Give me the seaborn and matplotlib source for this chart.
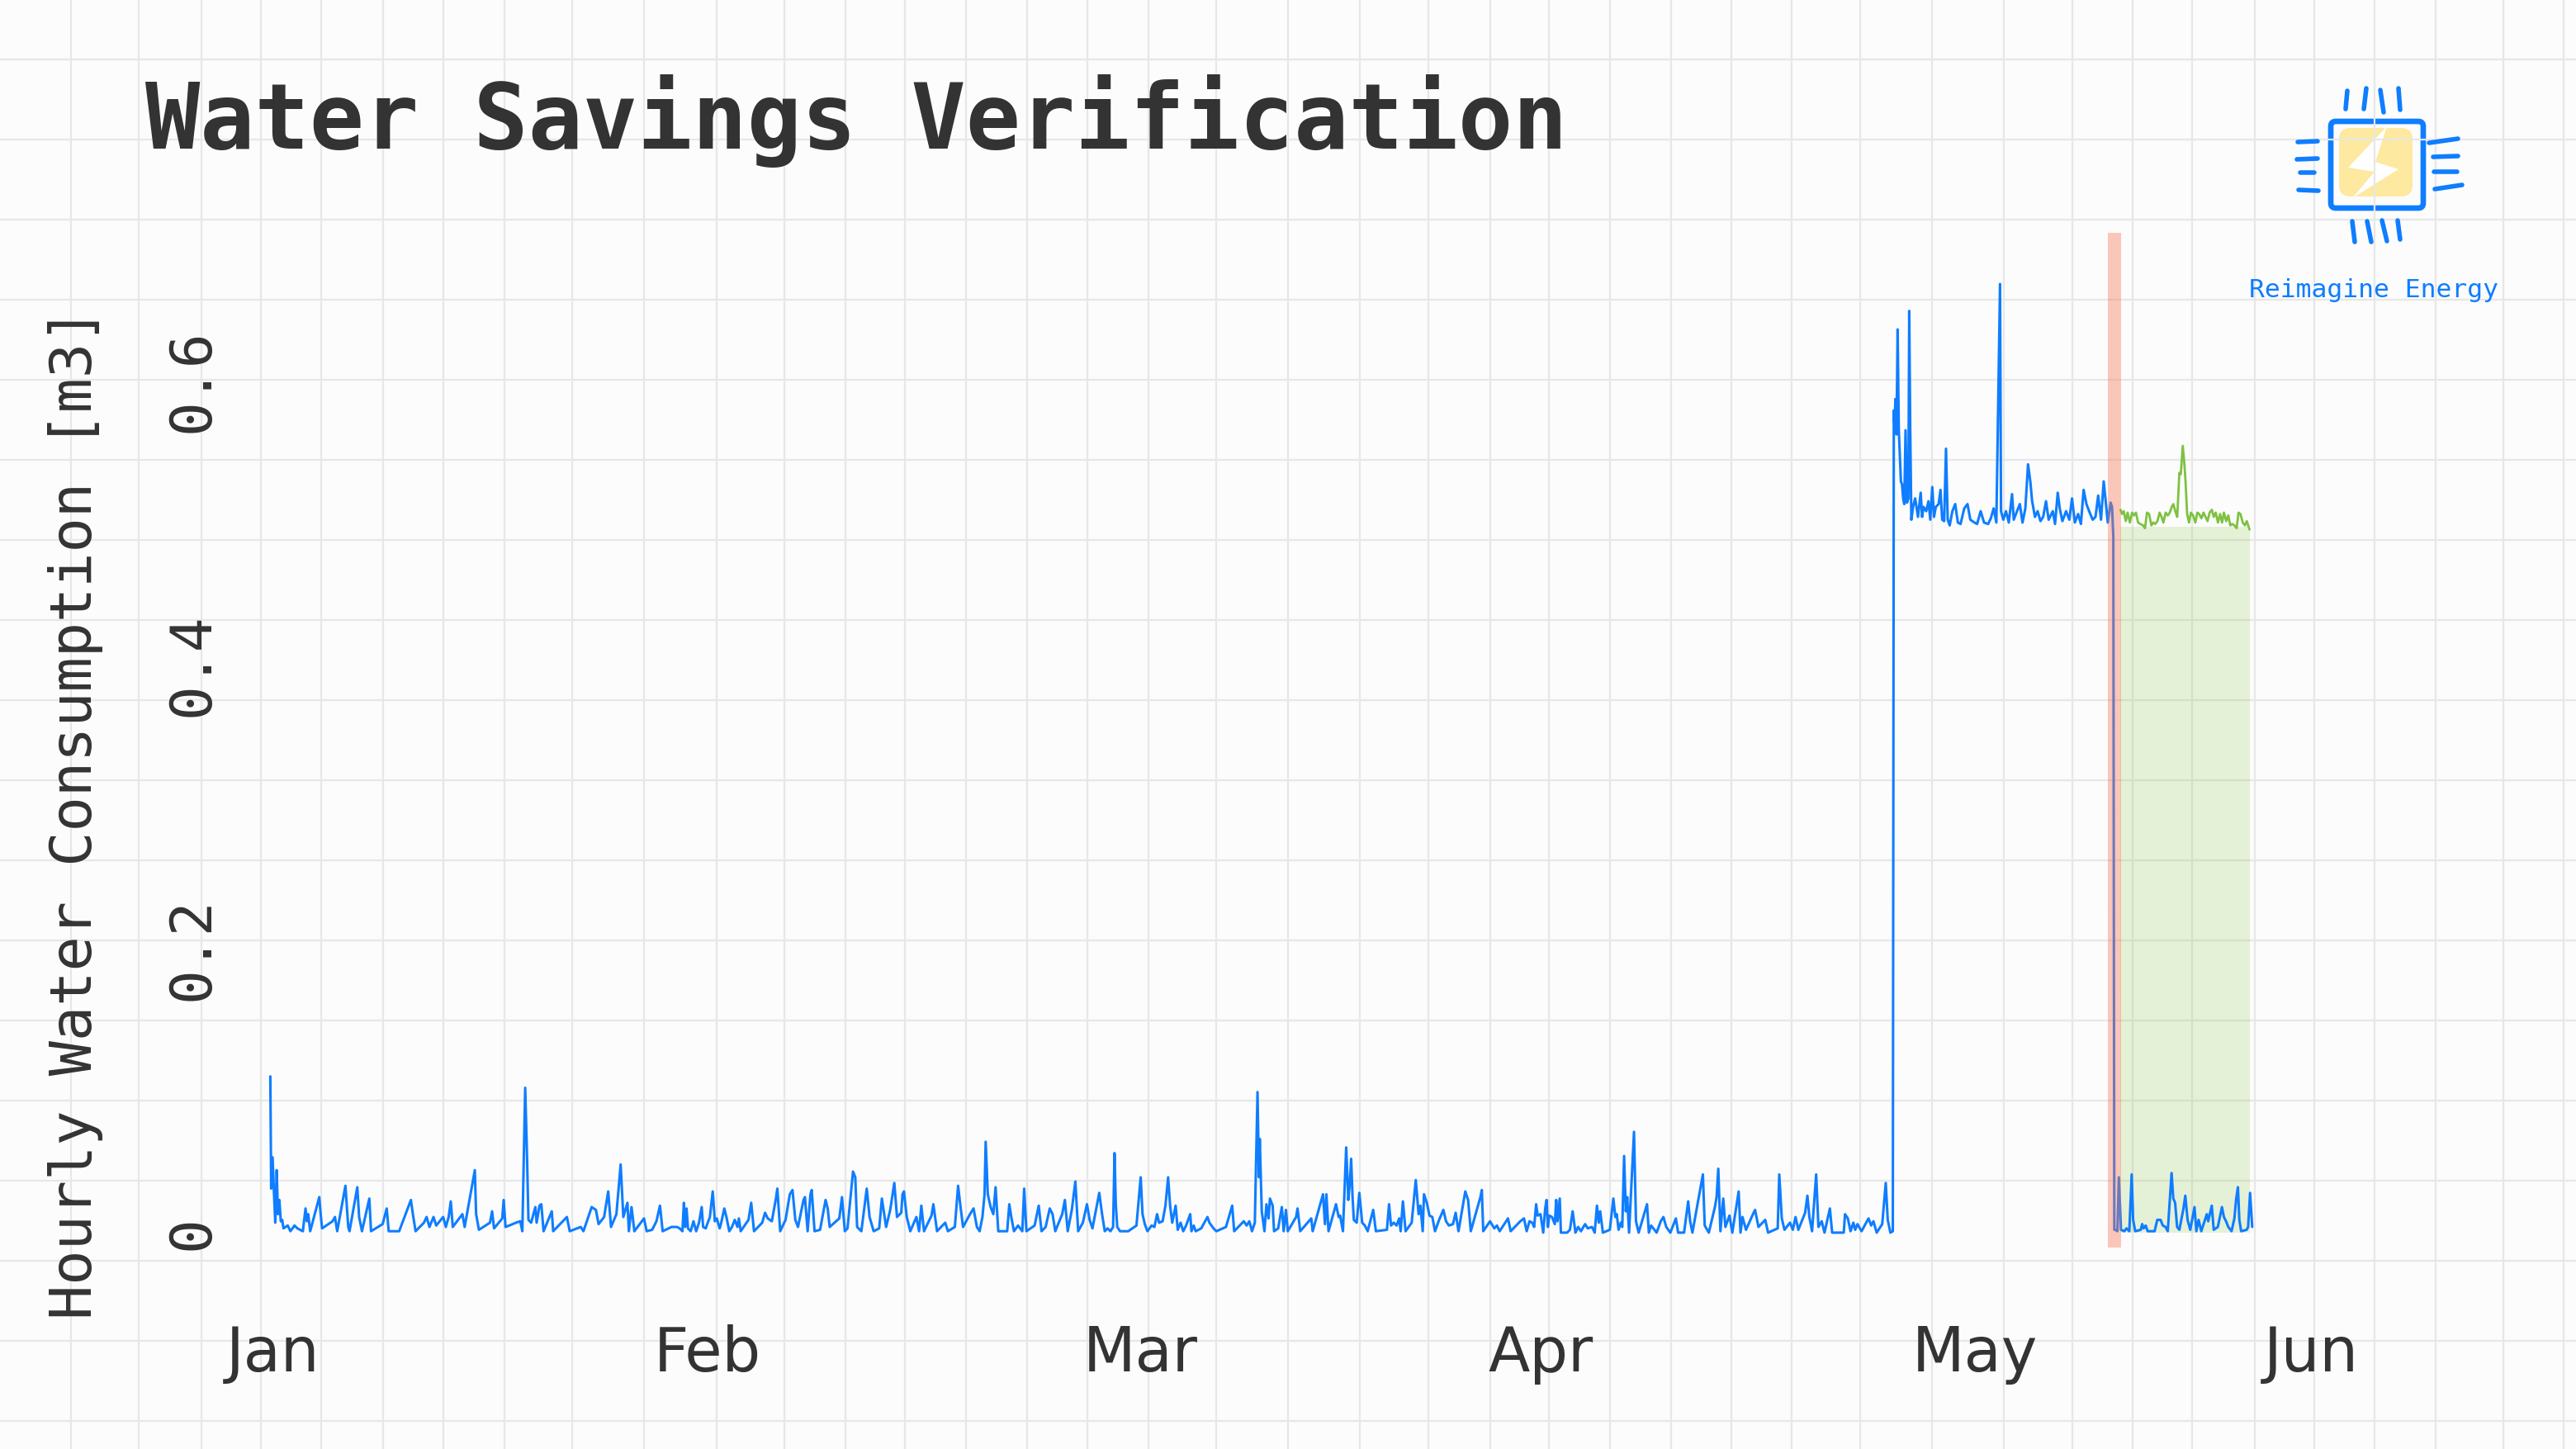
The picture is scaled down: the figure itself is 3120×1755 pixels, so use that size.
import numpy as np
import pandas as pd
import matplotlib
matplotlib.use("Agg")
import matplotlib.pyplot as plt
from matplotlib.patches import FancyBboxPatch, Polygon
import seaborn as sns

# hourly water use [m3] as (day since Jan 1, value)
jan_feb = [(0.00,0.110),(0.06,0.031),(0.16,0.053),(0.25,0.030),(0.35,0.007),(0.45,0.044),(0.54,0.013),(0.64,0.023),(0.74,0.008),(0.84,0.009),(0.93,0.003),(1.23,0.005),(1.42,0.001),(1.71,0.005),(1.91,0.003),(2.30,0.001),(2.49,0.017),(2.59,0.008),(2.68,0.013),(2.82,0.001),(3.46,0.025),(3.56,0.013),(3.66,0.003),(4.40,0.008),(4.57,0.011),(4.73,0.001),(5.31,0.033),(5.51,0.004),(5.60,0.001),(6.15,0.032),(6.28,0.011),(6.48,0.001),(7.00,0.024),(7.12,0.001),(7.94,0.006),(8.23,0.017),(8.37,0.001),(9.11,0.001),(9.94,0.023),(10.08,0.013),(10.27,0.001),(10.86,0.007),(11.05,0.011),(11.25,0.004),(11.54,0.011),(11.73,0.005),(12.22,0.011),(12.41,0.004),(12.61,0.011),(12.76,0.022),(12.90,0.004),(13.58,0.013),(13.74,0.004),(14.46,0.044),(14.55,0.013),(14.75,0.002),(15.53,0.007),(15.68,0.015),(15.82,0.003),(16.40,0.010),(16.50,0.023),(16.63,0.004),(16.89,0.005),(17.37,0.007),(17.67,0.008),(17.82,0.001),(18.02,0.102),(18.15,0.054),(18.25,0.009),(18.44,0.007),(18.74,0.018),(18.83,0.007),(19.03,0.019),(19.16,0.020),(19.32,0.001),(19.90,0.015),(20.00,0.001),(20.97,0.011),(21.17,0.001),(21.95,0.004),(22.14,0.001),(22.72,0.018),(23.02,0.016),(23.21,0.006),(23.60,0.011),(23.89,0.029),(24.09,0.004),(24.47,0.013),(24.77,0.048),(24.96,0.011),(25.25,0.021),(25.35,0.001),(25.54,0.018),(25.74,0.001),(26.42,0.010),(26.61,0.001),(27.00,0.002),(27.30,0.008),(27.55,0.019),(27.74,0.001),(28.37,0.004),(28.75,0.004)]

feb_mar = [(28.94,0.003),(29.14,0.001),(29.24,0.021),(29.33,0.004),(29.43,0.017),(29.53,0.003),(29.72,0.001),(29.92,0.008),(30.11,0.001),(30.31,0.007),(30.50,0.018),(30.60,0.004),(30.79,0.003),(30.89,0.006),(31.08,0.011),(31.28,0.029),(31.43,0.008),(31.57,0.010),(31.77,0.003),(31.86,0.006),(32.10,0.017),(32.25,0.011),(32.45,0.001),(32.64,0.004),(32.84,0.009),(33.03,0.004),(33.13,0.010),(33.26,0.001),(33.81,0.009),(34.00,0.021),(34.20,0.001),(34.78,0.007),(34.98,0.014),(35.17,0.010),(35.46,0.008),(35.75,0.024),(35.85,0.031),(36.05,0.001),(36.43,0.009),(36.73,0.027),(36.92,0.030),(37.12,0.009),(37.31,0.004),(37.70,0.023),(37.80,0.025),(37.99,0.001),(38.19,0.027),(38.28,0.030),(38.48,0.001),(38.87,0.002),(39.26,0.023),(39.41,0.017),(39.55,0.004),(40.23,0.010),(40.42,0.025),(40.62,0.001),(40.81,0.003),(41.20,0.043),(41.36,0.039),(41.49,0.004),(41.79,0.001),(42.17,0.031),(42.37,0.011),(42.66,0.001),(43.05,0.003),(43.24,0.024),(43.54,0.004),(43.83,0.016),(44.12,0.035),(44.31,0.011),(44.61,0.014),(44.70,0.027),(44.80,0.029),(45.00,0.011),(45.25,0.001),(45.68,0.011),(45.87,0.001),(46.03,0.019),(46.22,0.001),(46.75,0.012),(46.88,0.020),(47.14,0.001),(47.72,0.007),(47.91,0.001),(48.40,0.004),(48.63,0.033),(48.79,0.019),(48.98,0.004),(49.47,0.013),(49.72,0.017),(49.96,0.004),(50.15,0.001),(50.35,0.011),(50.50,0.027),(50.58,0.064),(50.73,0.027),(50.93,0.018),(51.12,0.013),(51.28,0.032),(51.47,0.001),(52.10,0.001),(52.25,0.020),(52.39,0.011),(52.58,0.001),(52.87,0.005),(53.17,0.001),(53.30,0.031),(53.46,0.001),(54.04,0.005),(54.33,0.019),(54.53,0.001),(54.82,0.004),(55.11,0.017),(55.31,0.013),(55.50,0.001),(55.99,0.013),(56.18,0.023),(56.38,0.001),(56.67,0.016),(56.92,0.036),(57.12,0.001),(57.45,0.007),(57.74,0.020),(57.93,0.009),(58.13,0.003),(58.61,0.028),(58.81,0.013),(59.00,0.001)]

mar_apr = [(59.20,0.003),(59.40,0.001),(59.59,0.004),(59.69,0.056),(59.78,0.020),(59.88,0.004),(60.08,0.001),(60.66,0.001),(61.24,0.005),(61.54,0.039),(61.67,0.013),(61.83,0.006),(62.02,0.001),(62.31,0.005),(62.51,0.004),(62.70,0.013),(62.84,0.007),(63.09,0.008),(63.29,0.019),(63.48,0.039),(63.62,0.019),(63.77,0.007),(64.01,0.019),(64.16,0.002),(64.36,0.007),(64.55,0.001),(64.75,0.005),(65.04,0.013),(65.13,0.001),(65.29,0.005),(65.43,0.001),(65.82,0.003),(66.26,0.011),(66.40,0.007),(66.69,0.003),(66.89,0.001),(67.57,0.004),(68.01,0.019),(68.15,0.001),(68.83,0.008),(69.03,0.005),(69.22,0.008),(69.41,0.001),(69.61,0.007),(69.80,0.099),(69.90,0.039),(69.96,0.066),(70.10,0.015),(70.29,0.001),(70.43,0.020),(70.58,0.010),(70.68,0.024),(70.87,0.019),(70.97,0.001),(71.26,0.003),(71.52,0.018),(71.65,0.001),(71.81,0.016),(71.94,0.001),(72.53,0.011),(72.63,0.017),(72.82,0.001),(73.60,0.010),(73.70,0.001),(74.43,0.027),(74.57,0.006),(74.67,0.027),(74.82,0.001),(75.35,0.020),(75.54,0.011),(75.64,0.012),(75.84,0.001),(76.07,0.060),(76.22,0.023),(76.32,0.034),(76.42,0.052),(76.52,0.025),(76.61,0.009),(76.81,0.007),(77.00,0.028),(77.20,0.007),(77.39,0.005),(77.59,0.001),(77.98,0.016),(78.17,0.001),(78.95,0.002),(79.10,0.020),(79.24,0.005),(79.43,0.007),(79.63,0.005),(79.82,0.010),(79.92,0.001),(80.08,0.022),(80.27,0.001),(80.70,0.007),(80.99,0.037),(81.19,0.013),(81.32,0.019),(81.48,0.001),(81.57,0.027),(81.77,0.021),(81.96,0.012),(82.16,0.011),(82.35,0.001),(82.64,0.009),(82.94,0.016),(83.13,0.008),(83.33,0.005),(83.62,0.006),(83.81,0.014),(84.01,0.001),(84.49,0.029),(84.69,0.023),(84.88,0.001),(85.56,0.025),(85.66,0.030),(85.76,0.001),(86.24,0.008),(86.54,0.003),(86.73,0.005),(86.92,0.001),(87.51,0.010),(87.70,0.001),(88.38,0.008),(88.64,0.010),(88.83,0.001)]

april = [(89.03,0.008),(89.22,0.007),(89.36,0.004),(89.50,0.020),(89.61,0.012),(89.81,0.013),(90.00,0.000),(90.14,0.017),(90.24,0.023),(90.33,0.004),(90.43,0.012),(90.62,0.011),(90.82,0.006),(90.92,0.023),(91.01,0.008),(91.17,0.024),(91.25,0.000),(91.69,0.000),(91.89,0.002),(92.08,0.015),(92.28,0.000),(92.47,0.004),(92.67,0.001),(92.96,0.006),(93.15,0.003),(93.45,0.004),(93.64,0.000),(93.80,0.019),(93.93,0.007),(94.03,0.015),(94.22,0.000),(94.71,0.002),(94.96,0.024),(95.10,0.011),(95.20,0.013),(95.33,0.002),(95.49,0.007),(95.59,0.004),(95.72,0.054),(95.84,0.015),(95.94,0.025),(96.07,0.000),(96.42,0.071),(96.56,0.008),(96.75,0.000),(97.34,0.020),(97.47,0.000),(97.63,0.005),(98.02,0.000),(98.31,0.008),(98.50,0.011),(98.70,0.004),(98.99,0.000),(99.38,0.010),(99.54,0.000),(99.96,0.000),(100.25,0.022),(100.39,0.008),(100.55,0.000),(101.29,0.041),(101.42,0.005),(101.71,0.000),(102.14,0.018),(102.26,0.025),(102.38,0.045),(102.53,0.001),(102.73,0.024),(102.88,0.004),(103.17,0.012),(103.37,0.000),(103.82,0.029),(103.95,0.000),(104.09,0.011),(104.34,0.002),(104.83,0.013),(104.98,0.016),(105.22,0.004),(105.41,0.006),(105.70,0.009),(105.90,0.000),(106.58,0.003),(106.69,0.041),(106.87,0.010),(107.06,0.002),(107.45,0.007),(107.65,0.002),(107.84,0.011),(108.04,0.002),(108.52,0.014),(108.68,0.026),(108.82,0.011),(109.01,0.001),(109.30,0.041),(109.46,0.004),(109.69,0.008),(109.89,0.000),(110.27,0.017),(110.43,0.000),(111.25,0.000),(111.34,0.013),(111.54,0.010),(111.73,0.001),(111.93,0.007),(112.06,0.002),(112.22,0.006),(112.51,0.001),(113.00,0.010),(113.19,0.005),(113.35,0.008),(113.58,0.000),(113.97,0.006),(114.22,0.035),(114.36,0.009),(114.55,0.000),(114.72,0.001)]

may_high = [(114.79,0.579),(114.85,0.566),(114.90,0.587),(114.98,0.562),(115.06,0.636),(115.14,0.566),(115.22,0.546),(115.29,0.529),(115.37,0.527),(115.45,0.517),(115.53,0.513),(115.62,0.565),(115.72,0.514),(115.82,0.517),(115.88,0.649),(115.95,0.566),(116.03,0.502),(116.15,0.511),(116.30,0.517),(116.50,0.504),(116.69,0.521),(116.79,0.504),(116.89,0.511),(117.08,0.508),(117.24,0.515),(117.37,0.502),(117.51,0.525),(117.63,0.504),(117.76,0.511),(117.96,0.513),(118.09,0.523),(118.21,0.502),(118.35,0.501),(118.48,0.552),(118.60,0.502),(118.74,0.498),(118.93,0.508),(119.13,0.513),(119.32,0.500),(119.51,0.499),(119.77,0.510),(120.00,0.513),(120.20,0.502),(120.49,0.500),(120.68,0.499),(120.93,0.508),(121.17,0.500),(121.46,0.499),(121.65,0.503),(121.85,0.510),(122.04,0.500),(122.30,0.668),(122.37,0.508),(122.53,0.502),(122.72,0.508),(122.92,0.500),(123.15,0.520),(123.27,0.502),(123.50,0.508),(123.70,0.513),(123.89,0.500),(124.09,0.510),(124.28,0.541),(124.44,0.529),(124.57,0.515),(124.77,0.504),(124.96,0.508),(125.16,0.501),(125.35,0.504),(125.55,0.515),(125.74,0.502),(126.03,0.508),(126.19,0.499),(126.38,0.521),(126.52,0.510),(126.71,0.501),(126.97,0.508),(127.20,0.502),(127.39,0.517),(127.59,0.500),(127.82,0.506),(128.02,0.499),(128.21,0.523),(128.41,0.513),(128.60,0.508),(128.85,0.502),(129.05,0.504),(129.24,0.519),(129.44,0.502),(129.63,0.529),(129.77,0.515),(129.92,0.500),(130.12,0.514),(130.22,0.511),(130.31,0.490)]

may_low = [(130.38,0.002),(130.46,0.002),(130.60,0.001),(130.70,0.039),(130.85,0.002),(131.09,0.001),(131.24,0.003),(131.44,0.001),(131.61,0.041),(131.71,0.009),(131.86,0.001),(132.25,0.002),(132.35,0.006),(132.45,0.003),(132.60,0.005),(132.74,0.001),(133.23,0.001),(133.42,0.009),(133.65,0.009),(133.81,0.005),(134.00,0.004),(134.16,0.001),(134.43,0.042),(134.55,0.024),(134.68,0.021),(134.82,0.004),(134.98,0.002),(135.27,0.017),(135.40,0.026),(135.56,0.009),(135.75,0.002),(136.05,0.018),(136.18,0.001),(136.34,0.009),(136.53,0.001),(136.92,0.013),(137.02,0.008),(137.27,0.019),(137.41,0.002),(137.70,0.004),(137.99,0.018),(138.13,0.011),(138.28,0.008),(138.44,0.004),(138.67,0.001),(138.87,0.010),(139.00,0.024),(139.12,0.032),(139.22,0.009),(139.35,0.001),(139.74,0.002),(139.84,0.004),(139.98,0.028),(140.13,0.004)]

# baseline model prediction after the intervention
predicted = [(130.82,0.509),(130.93,0.506),(131.05,0.508),(131.19,0.501),(131.32,0.507),(131.48,0.500),(131.64,0.507),(131.77,0.505),(131.91,0.507),(132.06,0.500),(132.22,0.499),(132.41,0.498),(132.55,0.496),(132.69,0.507),(132.84,0.506),(133.00,0.498),(133.13,0.500),(133.27,0.499),(133.43,0.501),(133.58,0.507),(133.72,0.504),(133.85,0.500),(134.01,0.507),(134.16,0.505),(134.30,0.507),(134.44,0.511),(134.55,0.513),(134.69,0.508),(134.83,0.504),(134.98,0.535),(135.08,0.534),(135.22,0.554),(135.33,0.542),(135.41,0.530),(135.53,0.506),(135.66,0.500),(135.80,0.507),(135.95,0.505),(136.11,0.500),(136.25,0.507),(136.38,0.506),(136.54,0.503),(136.69,0.507),(136.83,0.504),(136.97,0.501),(137.12,0.507),(137.28,0.509),(137.41,0.504),(137.55,0.507),(137.71,0.500),(137.86,0.506),(138.00,0.500),(138.13,0.507),(138.29,0.501),(138.44,0.505),(138.58,0.498),(138.72,0.499),(138.87,0.498),(139.03,0.496),(139.16,0.507),(139.30,0.506),(139.46,0.500),(139.61,0.498),(139.75,0.501),(139.94,0.495)]
savings_top = 0.497

intervention = (129.9, 130.84)   # day span of the retrofit marker

month_ticks = [0.2, 30.9, 61.5, 89.8, 120.5, 144.3]
month_labels = ["Jan", "Feb", "Mar", "Apr", "May", "Jun"]
y_ticks = [0, 0.2, 0.4, 0.6]
y_labels = ["0", "0.2", "0.4", "0.6"]

BLUE = "#0f7dff"
GREEN = "#7dc241"
INK = "#333333"
W, H = 3120, 1755

# grid-paper background (pixels)
paper_x = [86, 168, 244, 316, 389, 464, 537, 611, 693, 780, 868, 950, 1024, 1096, 1170, 1244,
           1317, 1391, 1473, 1560, 1647, 1730, 1805, 1876, 1950, 2024, 2097, 2170, 2253, 2340,
           2427, 2510, 2583, 2655, 2731, 2803, 2876, 2950, 3032, 3105]
paper_y = np.arange(72, H, 97)


def draw_logo(bg):
    bg.add_patch(FancyBboxPatch((2833, 155), 89, 83, boxstyle="round,pad=0,rounding_size=14",
                                fc="#fde9a0", ec="none"))
    bg.add_patch(Polygon([(2891, 153), (2844, 203), (2876, 208), (2849, 240), (2905, 205), (2877, 196)],
                         closed=True, fc="white", ec="none"))
    bg.add_patch(FancyBboxPatch((2823, 147), 112, 105, boxstyle="round,pad=0,rounding_size=6",
                                fc="none", ec=BLUE, lw=2.4))
    pins = [((2843, 110), (2841, 132)), ((2866, 107), (2863, 132)), ((2883, 109), (2887, 136)),
            ((2905, 107), (2907, 133)), ((2849, 268), (2852, 293)), ((2867, 268), (2872, 293)),
            ((2885, 267), (2891, 292)), ((2904, 267), (2907, 290)), ((2783, 172), (2807, 171)),
            ((2782, 193), (2807, 192)), ((2786, 209), (2803, 209)), ((2784, 230), (2808, 231)),
            ((2942, 173), (2977, 168)), ((2947, 190), (2977, 189)), ((2948, 208), (2976, 208)),
            ((2949, 229), (2982, 224))]
    for (x1, y1), (x2, y2) in pins:
        bg.plot([x1, x2], [y1, y2], color=BLUE, lw=2.0, solid_capstyle="round")


def plot_data():
    actual = pd.DataFrame(jan_feb + feb_mar + mar_apr + april + may_high + may_low, columns=["day", "m3"])
    pred = pd.DataFrame(predicted, columns=["day", "m3"])

    sns.set_style("white")
    plt.rcParams["font.family"] = ["DejaVu Sans Mono", "DejaVu Sans"]

    fig = plt.figure(figsize=(W / 200, H / 200), dpi=200, facecolor="#fcfcfc")

    bg = fig.add_axes([0, 0, 1, 1], zorder=0)
    bg.set_xlim(0, W)
    bg.set_ylim(H, 0)
    bg.axis("off")
    for x in paper_x:
        bg.axvline(x, color="#e7e7e7", lw=0.8)
    for y in paper_y:
        bg.axhline(y, color="#e7e7e7", lw=0.8)
    draw_logo(bg)

    ax = fig.add_axes([300 / W, 1 - 1511 / H, 2650 / W, 1229 / H], zorder=1)
    ax.patch.set_alpha(0)

    ax.fill_between(pred["day"], 0, savings_top, color="#8cc63f", alpha=0.2, lw=0, zorder=1)
    sns.lineplot(data=actual, x="day", y="m3", estimator=None, sort=False, color=BLUE, lw=1.1, ax=ax, zorder=2)
    sns.lineplot(data=pred, x="day", y="m3", estimator=None, sort=False, color=GREEN, lw=1.0, ax=ax, zorder=2)
    ax.axvspan(*intervention, color="#f77557", alpha=0.4, lw=0, zorder=3)

    ax.set_xlim(-1.6, 153.1)
    ax.set_ylim(-0.0105, 0.704)
    ax.set_xlabel("")
    ax.set_ylabel("")
    ax.set_xticks(month_ticks, month_labels, fontfamily="DejaVu Sans", fontsize=26.5, color=INK, va="baseline")
    ax.set_yticks(y_ticks, y_labels, fontsize=25, color=INK, rotation=90, ha="center", va="center")
    ax.tick_params(axis="x", length=0, pad=54)
    ax.tick_params(axis="y", length=0, pad=24)
    sns.despine(ax=ax, left=True, bottom=True)

    fig.text(176 / W, 1 - 180 / H, "Water Savings Verification", fontsize=39.6, fontweight="bold",
             color=INK, va="baseline", ha="left")
    fig.text(92 / W, 1 - 985 / H, "Hourly Water Consumption [m3]", fontsize=25.3, color=INK,
             rotation=90, ha="center", va="center")
    fig.text(2875 / W, 1 - 360 / H, "Reimagine Energy", fontsize=11.3, color=BLUE, ha="center", va="baseline")

    fig.savefig("out.png", dpi=200, facecolor=fig.get_facecolor())


if __name__ == "__main__":
    plot_data()
